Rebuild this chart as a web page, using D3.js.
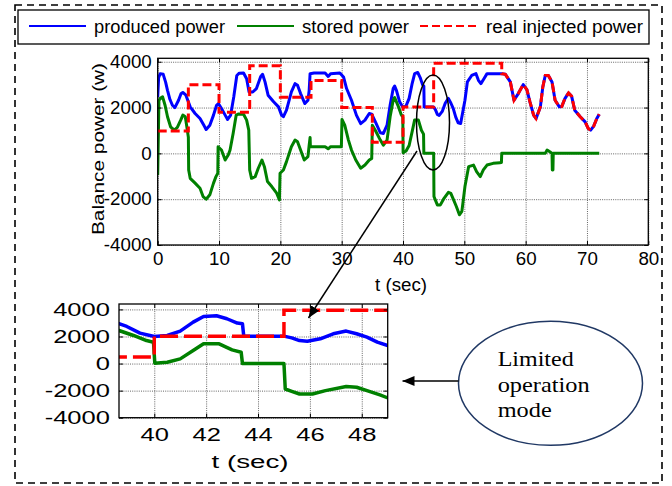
<!DOCTYPE html>
<html><head><meta charset="utf-8">
<script src="https://cdn.jsdelivr.net/npm/d3@7"></script>
<style>
body{margin:0;background:#fff;}
svg{display:block;font-family:"Liberation Sans",Arial,Helvetica,sans-serif;}
</style></head><body>
<svg id="chart" width="672" height="486"></svg>
<script>
// Balance power over time, [t (sec), power (W)]
const producedPower = [
  [0,2450],[0.15,3300],[0.4,3480],[0.9,3450],[1.3,3100],[1.6,2750],[2.0,2350],[2.4,2100],[2.8,2000],[3.4,2320],
  [3.8,2600],[4.1,2660],[4.6,2540],[5.3,2030],[6.1,1740],[6.9,1520],[7.6,1190],[7.9,1040],[8.5,1230],[9.1,1670],
  [9.6,2100],[9.9,2175],[10.4,1960],[11.0,1670],[11.4,1480],[11.9,1670],[12.4,2460],[12.9,3400],[13.3,3500],[14.0,3510],
  [14.5,3260],[14.9,2680],[15.5,2680],[16.1,2830],[16.8,3360],[17.1,3450],[17.5,3120],[18.0,2540],[18.9,2250],[19.7,2030],
  [20.2,1670],[20.5,1600],[21.0,1885],[21.8,2680],[22.4,3045],[22.8,2970],[23.3,2610],[24.0,2175],[24.5,2320],[24.7,2750],
  [24.85,3480],[25.5,3510],[27.3,3510],[27.8,3360],[28.2,3480],[29.7,3510],[30.3,3335],[30.8,2830],[31.6,2320],[32.4,1670],
  [33.1,1300],[33.8,1450],[34.5,1740],[34.9,1710],[35.5,1375],[36.3,900],[36.8,870],[37.4,1230],[37.9,2100],[38.4,2830],
  [38.64,2940],[38.94,2740],[39.45,2250],[40.0,2000],[40.5,2075],[41.0,2400],[41.5,3060],[41.9,3480],[42.4,3530],[42.8,3310],
  [43.2,2990],[43.4,2940],[43.45,2025],[45.0,2025],[45.3,1900],[45.6,1700],[45.9,1655],[46.4,1830],[46.9,2200],[47.4,2400],
  [47.8,2200],[48.2,1950],[48.6,1580],[49.0,1330],[49.4,1300],[50.1,2320],[50.5,3120],[51.2,3400],[51.9,3480],[52.3,3190],
  [52.7,3045],[53.2,3260],[53.7,3480],[56.1,3480],[56.7,3450],[57.5,3120],[58.1,2320],[58.8,2610],[59.6,3000],[60.2,2780],
  [60.7,2250],[61.3,1670],[61.7,1520],[62.4,2030],[62.8,2900],[63.2,3400],[63.7,3400],[64.3,3120],[64.8,2320],[65.5,2030],
  [65.9,2050],[66.4,2390],[67.0,2640],[67.5,2490],[68.0,1885],[68.9,1600],[69.7,1375],[70.2,1090],[70.6,1015],[71.1,1190],
  [71.6,1520],[72.0,1710]
];
const storedPower = [
  [0,-940],[0.2,2300],[0.4,2400],[0.8,2465],[1.2,2100],[1.6,1600],[2.1,1160],[2.7,1015],[3.2,1130],[3.75,1450],
  [4.1,1670],[4.5,1600],[4.75,1160],[5.0,700],[5.05,-725],[5.3,-1090],[6.1,-1300],[6.9,-1520],[7.4,-1885],[7.9,-2000],
  [8.5,-1810],[9.1,-1300],[9.5,-1015],[9.8,-870],[9.85,290],[10.4,145],[11.0,-290],[11.5,-72],[11.8,150],[12.3,870],
  [12.8,1670],[13.2,1720],[14.0,1710],[14.5,1450],[14.85,1015],[15.0,-725],[15.3,-1090],[15.9,-1015],[16.4,-650],[17.0,-290],
  [17.4,-580],[17.9,-1230],[18.6,-1450],[19.4,-1740],[19.85,-2030],[19.95,-870],[20.5,-725],[21.0,-360],[21.8,290],[22.4,580],
  [22.8,507],[23.3,145],[23.9,-290],[24.5,-145],[24.7,360],[24.85,695],[24.9,290],[27.3,290],[27.8,200],[28.2,290],
  [29.95,290],[30.05,1480],[30.5,1230],[31.1,580],[31.6,145],[32.3,-290],[33.1,-650],[33.8,-510],[34.5,-290],[34.9,-220],
  [35.0,1230],[35.5,1000],[36.3,580],[36.8,360],[37.4,580],[37.9,1595],[38.4,2320],[38.64,2440],[39.2,2075],[39.7,1700],
  [39.97,1580],[40.02,25],[40.5,100],[41.0,345],[41.5,960],[41.9,1460],[42.5,1460],[43.0,1010],[43.35,840],[43.4,0],
  [45.0,0],[45.05,-1880],[45.3,-2050],[45.6,-2250],[46.1,-2250],[46.6,-2000],[47.4,-1700],[47.8,-1750],[48.2,-2000],[48.7,-2320],
  [49.2,-2680],[49.6,-2535],[50.1,-1450],[50.7,-580],[51.5,-510],[52.0,-800],[52.6,-1015],[53.1,-725],[53.7,-510],[54.7,-435],
  [55.8,-405],[56.05,-400],[56.1,0],[63.2,0],[63.5,145],[64.0,60],[64.3,0],[64.35,-725],[64.45,-725],[64.5,0],[72.0,0]
];
const injectedPower = [
  [0,980],[5,980],[5,3000],[10,3000],[10,1800],[15,1800],[15,3820],[20,3820],[20,2450],[25,2450],
  [25,3180],[30,3180],[30,2000],[35,2000],[35,480],[40,480],[40,2025],[45,2025],[45,3930],[56.1,3930],
  [56.1,3480],[56.7,3450],[57.5,3120],[58.1,2320],[58.8,2610],[59.6,3000],[60.2,2780],[60.7,2250],[61.3,1670],[61.7,1520],
  [62.4,2030],[62.8,2900],[63.2,3400],[63.7,3400],[64.3,3120],[64.8,2320],[65.5,2030],[65.9,2050],[66.4,2390],[67.0,2640],
  [67.5,2490],[68.0,1885],[68.9,1600],[69.7,1375],[70.2,1090],[70.6,1015],[71.1,1190],[71.6,1520],[72.0,1710]
];
const seriesNames = ["produced power", "stored power", "real injected power"];
const mainTimeTicks = [0,10,20,30,40,50,60,70,80];
const zoomTimeTicks = [40,42,44,46,48];
const powerTicks = [-4000,-2000,0,2000,4000];

const colors = {produced: "#0000ff", stored: "#008000", injected: "#ff0000"};
const plainNumber = d => String(d);
const svg = d3.select("#chart");
const defs = svg.append("defs");

// outer dashed frame
svg.append("rect").attr("x", 15).attr("y", 5).attr("width", 647).attr("height", 478)
  .attr("fill", "none").attr("stroke", "#000").attr("stroke-width", 1.6).attr("stroke-dasharray", "7,5");

function drawPanel(cfg) {
  const x = d3.scaleLinear().domain(cfg.xDomain).range([cfg.left, cfg.right]);
  const y = d3.scaleLinear().domain(cfg.yDomain).range([cfg.bottom, cfg.top]);
  const w = cfg.right - cfg.left, h = cfg.bottom - cfg.top;
  const g = svg.append("g");

  // dotted grid
  const gx = g.append("g").attr("transform", `translate(0,${cfg.bottom})`)
    .call(d3.axisBottom(x).tickValues(cfg.xTicks).tickSize(-h).tickFormat(""));
  const gy = g.append("g").attr("transform", `translate(${cfg.left},0)`)
    .call(d3.axisLeft(y).tickValues(powerTicks).tickSize(-w).tickFormat(""));
  [gx, gy].forEach(a => {
    a.select(".domain").remove();
    a.selectAll("line").attr("stroke", "#555").attr("stroke-width", 0.9).attr("stroke-dasharray", "1,1.2");
  });

  defs.append("clipPath").attr("id", cfg.id).append("rect")
    .attr("x", cfg.left).attr("y", cfg.top).attr("width", w).attr("height", h);

  const line = d3.line().x(d => x(d[0])).y(d => y(d[1]));
  const plot = g.append("g").attr("clip-path", `url(#${cfg.id})`);
  plot.append("path").datum(producedPower).attr("d", line).attr("fill", "none")
    .attr("stroke", colors.produced).attr("stroke-width", cfg.lw).attr("stroke-linejoin", "round");
  plot.append("path").datum(storedPower).attr("d", line).attr("fill", "none")
    .attr("stroke", colors.stored).attr("stroke-width", cfg.lw).attr("stroke-linejoin", "round");
  plot.append("path").datum(injectedPower).attr("d", line).attr("fill", "none")
    .attr("stroke", colors.injected).attr("stroke-width", cfg.lw).attr("stroke-dasharray", cfg.dash);

  // frame
  g.append("rect").attr("x", cfg.left).attr("y", cfg.top).attr("width", w).attr("height", h)
    .attr("fill", "none").attr("stroke", "#000").attr("stroke-width", 1.3);

  // inward ticks on all sides, labels on bottom and left
  const k = cfg.textScale;
  const bx = g.append("g").attr("transform", `translate(0,${cfg.bottom})`)
    .call(d3.axisBottom(x).tickValues(cfg.xTicks).tickFormat(plainNumber)
      .tickSizeInner(-4).tickSizeOuter(0).tickPadding(cfg.xPad));
  const ly = g.append("g").attr("transform", `translate(${cfg.left},0)`)
    .call(d3.axisLeft(y).tickValues(powerTicks).tickFormat(plainNumber)
      .tickSizeInner(-4).tickSizeOuter(0).tickPadding(cfg.yPad));
  const tx = g.append("g").attr("transform", `translate(0,${cfg.top})`)
    .call(d3.axisTop(x).tickValues(cfg.xTicks).tickSizeInner(-4).tickSizeOuter(0).tickFormat(""));
  const ry = g.append("g").attr("transform", `translate(${cfg.right},0)`)
    .call(d3.axisRight(y).tickValues(powerTicks).tickSizeInner(-4).tickSizeOuter(0).tickFormat(""));
  [bx, ly, tx, ry].forEach(a => {
    a.select(".domain").remove();
    a.selectAll("line").attr("stroke", "#000").attr("stroke-width", 1);
    a.selectAll("text").attr("fill", "#000").attr("font-size", cfg.fontSize)
      .attr("font-family", "'Liberation Sans', Arial, sans-serif");
  });
  bx.selectAll("text").attr("transform", `scale(${k},1)`);
  ly.selectAll("text").attr("x", -cfg.yPad / k).attr("transform", `scale(${k},1)`);
  return {x, y, g};
}

// main panel
const main = drawPanel({
  id: "clipMain", left: 157.7, right: 648.3, top: 58.3, bottom: 245,
  xDomain: [0, 80], yDomain: [-4000, 4150], xTicks: mainTimeTicks,
  lw: 3, dash: "9,4", fontSize: 18, textScale: 1.04, xPad: 7, yPad: 6
});
svg.append("text").attr("transform", "translate(104,149) rotate(-90)")
  .attr("text-anchor", "middle").attr("font-size", 17)
  .attr("textLength", 172).attr("lengthAdjust", "spacingAndGlyphs")
  .text("Balance power (w)");
svg.append("text").attr("x", 401).attr("y", 291).attr("text-anchor", "middle").attr("font-size", 18)
  .attr("textLength", 52).attr("lengthAdjust", "spacingAndGlyphs").text("t (sec)");

// zoomed panel
const zoom = drawPanel({
  id: "clipZoom", left: 119, right: 387.7, top: 304, bottom: 417.7,
  xDomain: [38.64, 49], yDomain: [-4000, 4400], xTicks: zoomTimeTicks,
  lw: 3.5, dash: "18,6", fontSize: 18, textScale: 1.42, xPad: 11, yPad: 9
});
svg.append("text").attr("x", 250).attr("y", 468).attr("text-anchor", "middle").attr("font-size", 18)
  .attr("textLength", 77).attr("lengthAdjust", "spacingAndGlyphs").text("t (sec)");

// legend
const lg = svg.append("g");
lg.append("rect").attr("x", 18).attr("y", 10).attr("width", 631).attr("height", 34)
  .attr("fill", "#fff").attr("stroke", "#000").attr("stroke-width", 1.3);
const legendItems = [
  {name: seriesNames[0], color: colors.produced, x0: 29, x1: 86, tx: 94, tw: 131, dash: null},
  {name: seriesNames[1], color: colors.stored, x0: 237, x1: 294, tx: 302, tw: 107, dash: null},
  {name: seriesNames[2], color: colors.injected, x0: 420, x1: 476, tx: 486, tw: 157, dash: "8,4"}
];
legendItems.forEach(it => {
  lg.append("line").attr("x1", it.x0).attr("x2", it.x1).attr("y1", 26).attr("y2", 26)
    .attr("stroke", it.color).attr("stroke-width", 2.2).attr("stroke-dasharray", it.dash);
  lg.append("text").attr("x", it.tx).attr("y", 33).attr("font-size", 18)
    .attr("textLength", it.tw).attr("lengthAdjust", "spacingAndGlyphs").text(it.name);
});

// annotations
defs.append("marker").attr("id", "head").attr("viewBox", "0 0 12 10")
  .attr("refX", 12).attr("refY", 5).attr("markerWidth", 12).attr("markerHeight", 10)
  .attr("markerUnits", "userSpaceOnUse").attr("orient", "auto")
  .append("path").attr("d", "M0,0 L12,5 L0,10 Z").attr("fill", "#000");

svg.append("ellipse").attr("cx", 433).attr("cy", 122.5).attr("rx", 16.5).attr("ry", 47.5)
  .attr("fill", "none").attr("stroke", "#000").attr("stroke-width", 1.5);
svg.append("line").attr("x1", 417).attr("y1", 151).attr("x2", 308.5).attr("y2", 318)
  .attr("stroke", "#000").attr("stroke-width", 1.5).attr("marker-end", "url(#head)");

svg.append("ellipse").attr("cx", 550.5).attr("cy", 383.3).attr("rx", 92).attr("ry", 62)
  .attr("fill", "#fff").attr("stroke", "#203864").attr("stroke-width", 1.5);
svg.append("line").attr("x1", 458.5).attr("y1", 381).attr("x2", 402.5).attr("y2", 381)
  .attr("stroke", "#000").attr("stroke-width", 1.5).attr("marker-end", "url(#head)");
const note = [["Limited", 366, 76], ["operation", 391.5, 92], ["mode", 416.7, 54]];
note.forEach(([s, yy, tw]) => {
  svg.append("text").attr("x", 497.7).attr("y", yy).attr("font-size", 22)
    .attr("font-family", "'Liberation Serif', 'Times New Roman', serif")
    .attr("textLength", tw).attr("lengthAdjust", "spacingAndGlyphs").text(s);
});
</script>
</body></html>
